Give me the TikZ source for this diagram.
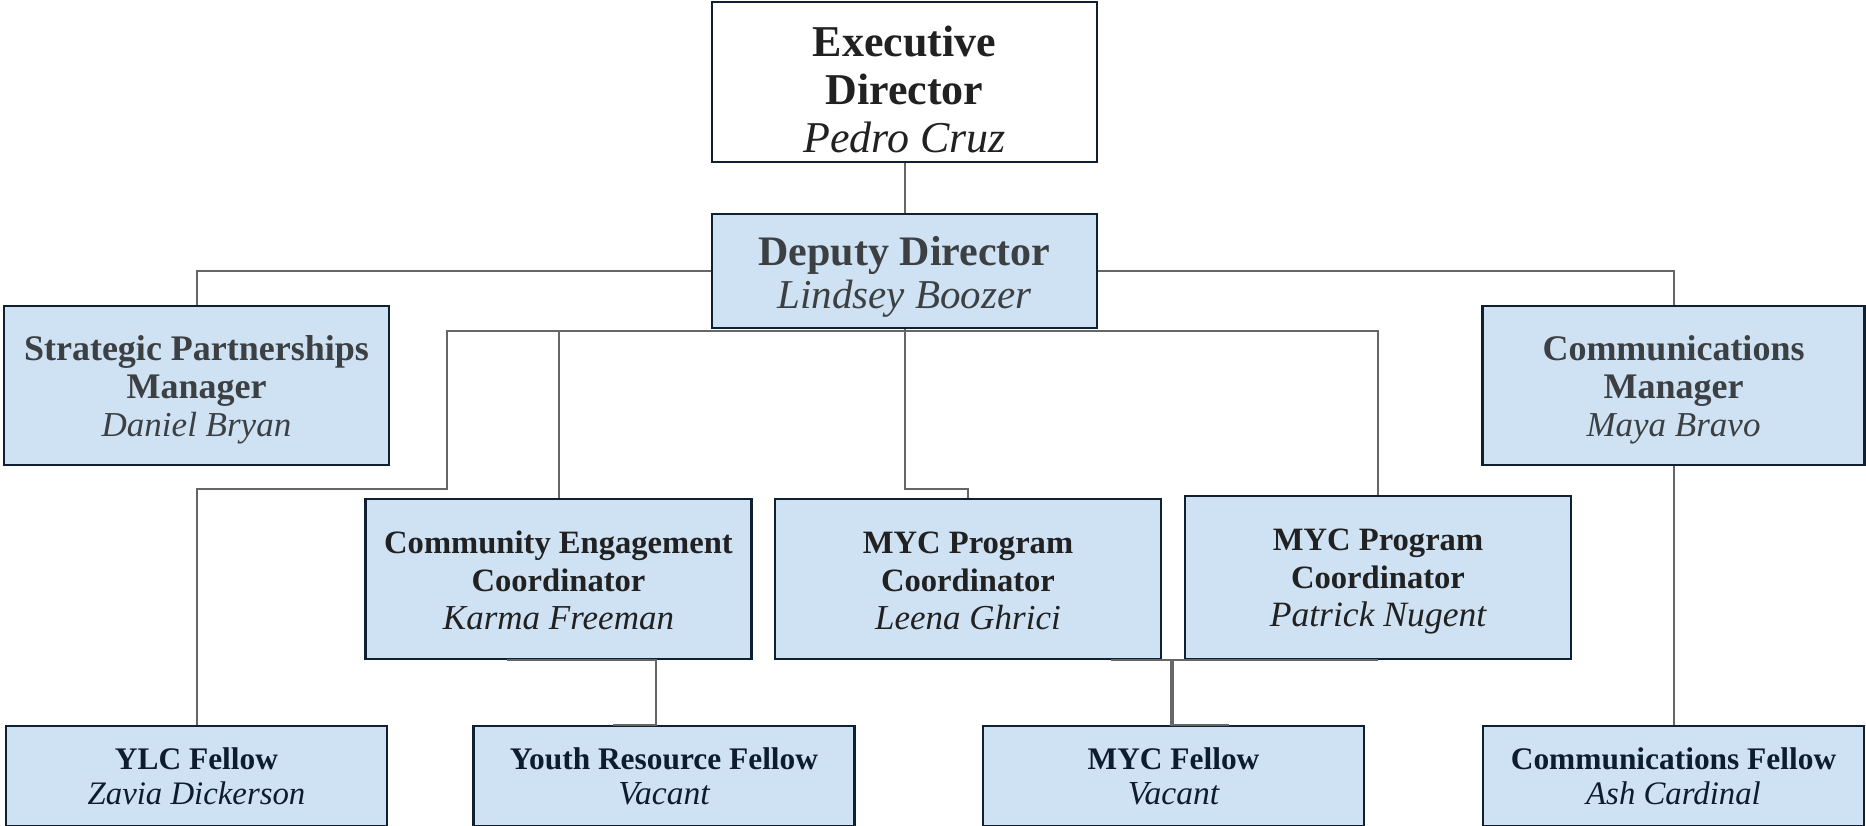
\documentclass[tikz,border=0pt]{standalone}
\usepackage{fontspec}
\setmainfont{Liberation Serif}
\definecolor{boxfill}{HTML}{CFE2F3}
\definecolor{boxline}{HTML}{0F2033}
\definecolor{linkgray}{HTML}{666666}
\definecolor{inkgray}{HTML}{3C4043}
\definecolor{inkdark}{HTML}{212121}
\definecolor{inknavy}{HTML}{0E1C2F}
% person name in italics, at its own size
\newcommand{\who}[2]{{\fontsize{#1}{\baselineskip}\selectfont\itshape #2}}
% taller first line, pushes the text down in its box
\newcommand{\lift}[1]{\rule{0pt}{#1}}
\tikzset{
  orgbox/.style={draw=boxline, line width=1.25pt, fill=boxfill, align=center, inner sep=0pt},
  headbox/.style={orgbox, fill=white, text=inkdark, minimum width=192.5pt, minimum height=80pt,
    font=\fontsize{22}{24}\selectfont},
  topbox/.style={orgbox, text=inkgray, font=\fontsize{21}{21.5}\selectfont},
  managerbox/.style={orgbox, text=inkgray, minimum height=79.5pt,
    font=\fontsize{18}{19}\selectfont},
  coordbox/.style={orgbox, text=inkdark, minimum width=193pt, minimum height=80pt,
    font=\fontsize{16.3}{19}\selectfont},
  fellowbox/.style={orgbox, text=inknavy, minimum width=190.5pt, minimum height=50pt,
    font=\fontsize{15.7}{17.5}\selectfont},
  link/.style={draw=linkgray, line width=1pt}
}
\begin{document}
\begin{tikzpicture}[x=0.5pt, y=-0.5pt]
  \useasboundingbox (0,0) rectangle (1866,825);
  \clip (0,0) rectangle (1866,825);
  % director level
  \node[headbox] (exec) at (904.5,82)
    {\lift{22.4pt}\textbf{Executive}\\\textbf{Director}\\\who{22}{Pedro Cruz}};
  \node[topbox, minimum width=192.5pt, minimum height=57pt] (deputy) at (904.5,271)
    {\lift{20.5pt}\textbf{Deputy Director}\\\who{20.5}{Lindsey Boozer}};
  % managers
  \node[managerbox, minimum width=192.5pt] (strat) at (196.5,385.5)
    {\lift{16.6pt}\textbf{Strategic Partnerships}\\\textbf{Manager}\\\who{17.5}{Daniel Bryan}};
  \node[managerbox, minimum width=191pt] (commmgr) at (1673.5,385.5)
    {\lift{16.6pt}\textbf{Communications}\\\textbf{Manager}\\\who{17.5}{Maya Bravo}};
  % coordinators
  \node[coordbox] (ce) at (558.5,579)
    {\lift{12.5pt}\textbf{Community Engagement}\\\textbf{Coordinator}\\\who{17.5}{Karma Freeman}};
  \node[coordbox] (leena) at (968,579)
    {\lift{12.5pt}\textbf{MYC Program}\\\textbf{Coordinator}\\\who{17.5}{Leena Ghrici}};
  \node[coordbox, minimum height=81.5pt] (patrick) at (1378,577.5)
    {\lift{14.5pt}\textbf{MYC Program}\\\textbf{Coordinator}\\\who{17.8}{Patrick Nugent}};
  % fellows
  \node[fellowbox] (ylc) at (196.5,776) {\textbf{YLC Fellow}\\\who{16.4}{Zavia Dickerson}};
  \node[fellowbox] (youth) at (664,776) {\textbf{Youth Resource Fellow}\\\who{16.8}{Vacant}};
  \node[fellowbox] (mycf) at (1173.5,776) {\textbf{MYC Fellow}\\\who{16.8}{Vacant}};
  \node[fellowbox] (commf) at (1673.5,776) {\textbf{Communications Fellow}\\\who{16.4}{Ash Cardinal}};

  \coordinate (bus) at (904.5,331);
  \coordinate (ylcbend) at (447,489);

  \draw[link] (exec.south) -- (deputy.north);
  \draw[link] (deputy.west) -| (strat.north);
  \draw[link] (deputy.east) -| (commmgr.north);
  \draw[link] (deputy.south) -- (bus) -| (ylcbend) -| (ylc.north);
  \draw[link] (deputy.south) -- (bus) -| (ce.north);
  \draw[link] (deputy.south) -- (904.5,489) -| (leena.north);
  \draw[link] (deputy.south) -- (bus) -| (patrick.north);
  \draw[link] ([xshift=-26pt]ce.south) -| ([xshift=-4pt]youth.north) -- ++(-21.5pt,0);
  \draw[link] ([xshift=71.5pt]leena.south) -| ([xshift=-1.5pt]mycf.north) -- ++(29pt,0);
  \draw[link] (patrick.south) -| ([xshift=-0.5pt]mycf.north);
  \draw[link] (commmgr.south) -- (commf.north);
\end{tikzpicture}
\end{document}
